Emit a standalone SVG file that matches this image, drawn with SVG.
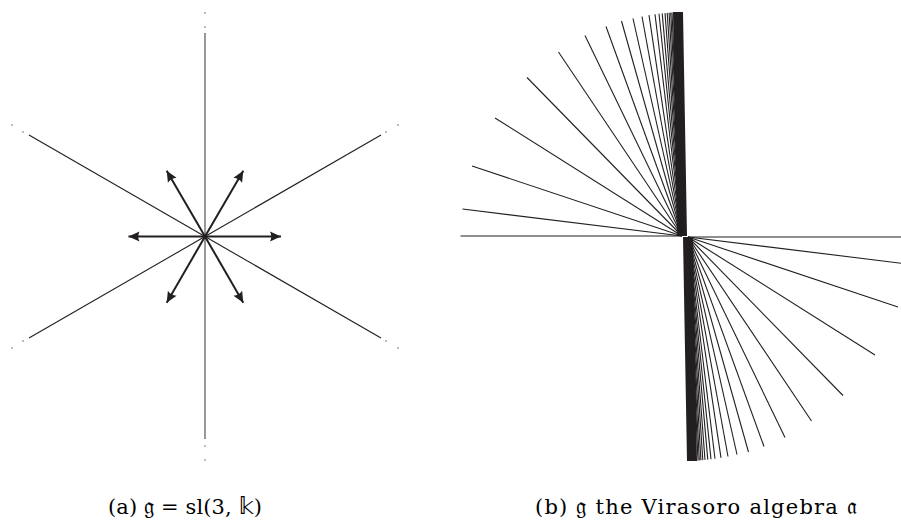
<svg xmlns="http://www.w3.org/2000/svg" xmlns:xlink="http://www.w3.org/1999/xlink" width="901" height="521" viewBox="0 0 901 521">
<style>
.thin{stroke:#231f20;stroke-width:1.1;fill:none}
.vert{stroke:#555;stroke-width:1.2;fill:none}
.arrow{stroke:#231f20;stroke-width:2;fill:none;marker-end:url(#head)}
.dot{fill:#666}
.fan line{stroke:#231f20;stroke-width:1.1}
.band{fill:#231f20}
.cap{font-family:"DejaVu Serif","Liberation Serif",serif;font-size:21px;fill:#000}
.math{font-family:"DejaVu Sans","DejaVu Serif",serif;font-size:23px}
</style>
<defs>
<marker id="head" viewBox="-12 -6 13 12" markerWidth="13" markerHeight="12" refX="0" refY="0" orient="auto" markerUnits="userSpaceOnUse">
<path d="M0,0 L-11,-5 Q-8.5,0 -11,5 Z" fill="#231f20"/>
</marker>
</defs>
<rect width="901" height="521" fill="#fff"/>
<g id="sl3">
<line class="vert" x1="205" y1="33" x2="205" y2="439"/>
<line class="thin" x1="205" y1="236.5" x2="29" y2="135"/>
<line class="thin" x1="205" y1="236.5" x2="381" y2="135"/>
<line class="thin" x1="205" y1="236.5" x2="29" y2="338"/>
<line class="thin" x1="205" y1="236.5" x2="381" y2="338"/>
<g id="dots">
<circle class="dot" cx="205" cy="13" r="0.8"/><circle class="dot" cx="205" cy="27" r="0.8"/>
<circle class="dot" cx="205" cy="446" r="0.8"/><circle class="dot" cx="205" cy="460" r="0.8"/>
<circle class="dot" cx="23" cy="132" r="0.8"/><circle class="dot" cx="12" cy="125" r="0.8"/>
<circle class="dot" cx="23" cy="341" r="0.8"/><circle class="dot" cx="12" cy="348" r="0.8"/>
<circle class="dot" cx="386" cy="132" r="0.8"/><circle class="dot" cx="398" cy="125" r="0.8"/>
<circle class="dot" cx="386" cy="341" r="0.8"/><circle class="dot" cx="398" cy="348" r="0.8"/>
</g>
<g id="roots">
<line class="arrow" x1="205" y1="236.5" x2="128.5" y2="236.5"/>
<line class="arrow" x1="205" y1="236.5" x2="281" y2="236.5"/>
<line class="arrow" x1="205" y1="236.5" x2="166.7" y2="170.7"/>
<line class="arrow" x1="205" y1="236.5" x2="243.3" y2="170.7"/>
<line class="arrow" x1="205" y1="236.5" x2="166.7" y2="302.7"/>
<line class="arrow" x1="205" y1="236.5" x2="243.3" y2="302.7"/>
</g>
</g>
<g id="virasoro">
<g id="fanUpper" class="fan">
<polygon class="band" points="673,12 683,12 687,236 677,236"/>
<line x1="682" y1="236" x2="460.5" y2="236"/>
<line x1="682" y1="236" x2="462.5" y2="209"/>
<line x1="682" y1="236" x2="472" y2="166"/>
<line x1="682" y1="236" x2="495" y2="118"/>
<line x1="682" y1="236" x2="527" y2="77.5"/>
<line x1="682" y1="236" x2="558.5" y2="52"/>
<line x1="682" y1="236" x2="585" y2="35.5"/>
<line x1="682" y1="236" x2="606" y2="26.5"/>
<line x1="682" y1="236" x2="621.5" y2="21"/>
<line x1="682" y1="236" x2="633" y2="18.5"/>
<line x1="682" y1="236" x2="642" y2="16.5"/>
<line x1="682" y1="236" x2="649" y2="15.2"/>
<line x1="682" y1="236" x2="655" y2="14.3"/>
<line x1="682" y1="236" x2="659" y2="13.8"/>
<line x1="682" y1="236" x2="662.2" y2="13.4"/>
<line x1="682" y1="236" x2="665" y2="13.1"/>
<line x1="682" y1="236" x2="667.2" y2="12.9"/>
<line x1="682" y1="236" x2="669.1" y2="12.7"/>
<line x1="682" y1="236" x2="670.7" y2="12.6"/>
<line x1="682" y1="236" x2="672" y2="12.5"/>
</g>
<use xlink:href="#fanUpper" href="#fanUpper" transform="translate(1370,473) scale(-1)"/>
</g>
<g id="captions">
<text class="cap" x="185" y="514" text-anchor="middle" textLength="154" lengthAdjust="spacing">(a) <tspan class="math">𝔤</tspan> = sl(3, <tspan class="math">𝕜</tspan>)</text>
<text class="cap" x="696" y="514" text-anchor="middle" textLength="322" lengthAdjust="spacing">(b) <tspan class="math">𝔤</tspan> the Virasoro algebra <tspan class="math">𝔞</tspan></text>
</g>
</svg>
